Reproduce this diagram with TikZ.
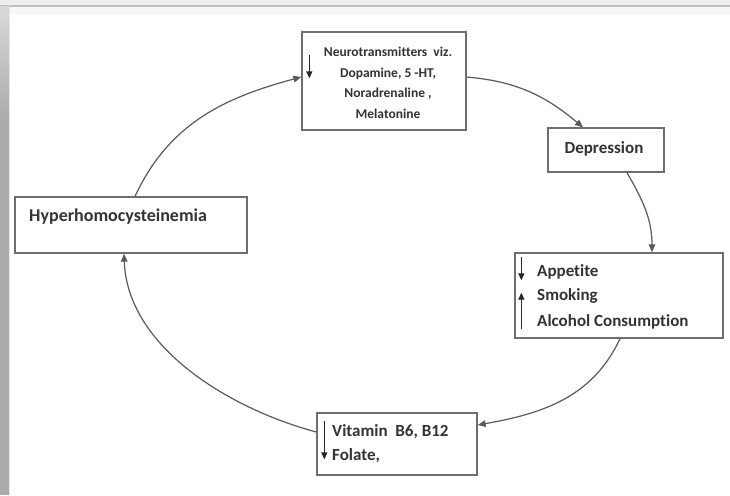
\documentclass[tikz,border=0pt]{standalone}
\usepackage{fontspec}
\setmainfont[Ligatures=NoCommon]{Carlito}
\usetikzlibrary{arrows.meta}
\definecolor{boxline}{HTML}{6E6E6E}
\definecolor{linkline}{HTML}{5A5A5A}
\definecolor{txt}{HTML}{333333}
\definecolor{framegray}{HTML}{ABABAB}
\begin{document}
\begin{tikzpicture}[x=1pt,y=-1pt,
  box/.style={draw=boxline,line width=1.3pt,inner sep=0pt,fill=white},
  lbl/.style={text=txt,font=\bfseries\fontsize{17}{20}\selectfont,inner sep=0pt,anchor=base west},
  link/.style={draw=linkline,line width=1.2pt,-{Triangle[length=8pt,width=6.5pt]}},
  trendarrow/.style={draw=black!85,line width=1.3pt,-{Triangle[length=7pt,width=6pt]}}]
% page frame
\useasboundingbox (0,0) rectangle (730,495);
\fill[white] (0,0) rectangle (730,495);
\fill[black!7] (0,0) rectangle (730,6);
\fill[black!25] (0,5) rectangle (730,7);
\fill[black!3] (9,7) rectangle (730,15);
\shade[top color=black!15,bottom color=framegray] (0,7) rectangle (9,120);
\fill[framegray] (0,120) rectangle (9,495);
\fill[black!10] (9,7) rectangle (10,495);

% boxes
\node[box,minimum width=164pt,minimum height=98pt] (nt)  at (384,81) {};
\node[box,minimum width=116pt,minimum height=44pt] (dep) at (606,150) {};
\node[box,minimum width=208pt,minimum height=85pt] (app) at (619,295.5) {};
\node[box,minimum width=160pt,minimum height=62pt] (vit) at (397,444) {};
\node[box,minimum width=232pt,minimum height=56pt] (hyp) at (131,225) {};

% texts
\node[text=txt,font=\bfseries\fontsize{13.5}{20.5}\selectfont,align=center,inner sep=0pt] (ntt) at (388,83)
  {Neurotransmitters\ \ viz.\\Dopamine, 5 -HT,\\Noradrenaline ,\\Melatonine};
\node[lbl,anchor=base] (dept) at (604,153) {Depression};
\node[lbl,font=\bfseries\fontsize{18}{20}\selectfont] (hypt) at (29,221) {Hyperhomocysteinemia};
\node[lbl] (app1) at (537,276) {Appetite};
\node[lbl] (app2) at (537,300) {Smoking};
\node[lbl] (app3) at (537,326) {Alcohol Consumption};
\node[lbl] (vit1) at (332,436) {Vitamin\ \ B6, B12};
\node[lbl] (vit2) at (332,460) {Folate,};

% up and down marks beside the entries
\draw[trendarrow] ([shift={(8pt,-24pt)}]nt.north west) -- ([shift={(8pt,-47pt)}]nt.north west);
\draw[trendarrow] ([shift={(7pt,-5pt)}]app.north west) -- ([shift={(7pt,-28pt)}]app.north west);
\draw[trendarrow] ([shift={(7pt,10pt)}]app.south west) -- ([shift={(7pt,46pt)}]app.south west);
\draw[trendarrow] ([shift={(8pt,-9pt)}]vit.north west) -- ([shift={(8pt,-47pt)}]vit.north west);

% the cycle
\draw[link] ([xshift=4pt]hyp.north) to[out=65,in=195] ([yshift=4pt]nt.west);
\draw[link] ([yshift=4pt]nt.east) to[out=-5,in=140] ([xshift=-23pt]dep.north);
\draw[link] ([xshift=21pt]dep.south) to[out=-60,in=90] ([xshift=33pt]app.north);
\draw[link] ([xshift=1pt]app.south) to[out=-115,in=10] ([yshift=19pt]vit.east);
\draw[link] ([yshift=12pt]vit.west) to[out=165,in=-88,looseness=0.9] ([xshift=-7pt]hyp.south);
\end{tikzpicture}
\end{document}
